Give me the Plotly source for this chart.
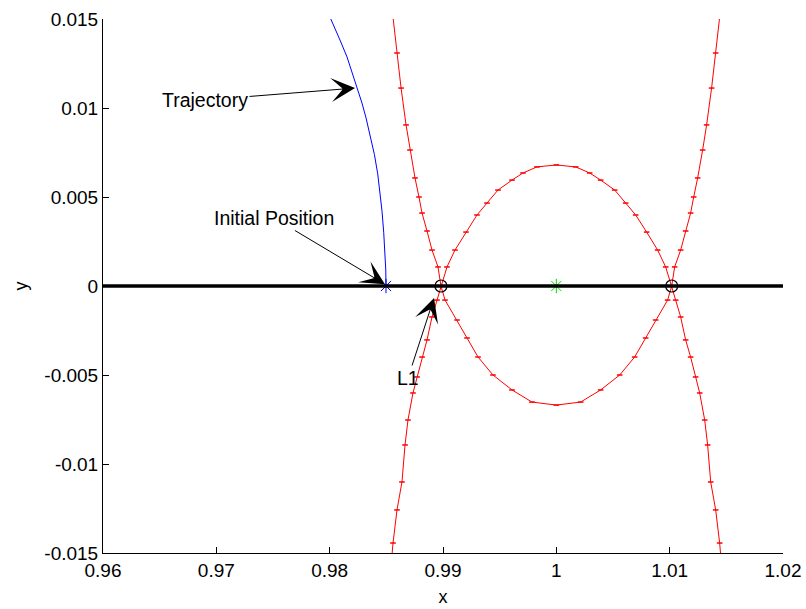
import plotly.graph_objects as go

# ---------------- data ----------------
# Trajectory (blue), from top of the frame down to the initial position
traj_x = [0.98003, 0.98047, 0.98091, 0.98153, 0.98197, 0.98241, 0.98285, 0.98321,
          0.98356, 0.98395, 0.98424, 0.98444, 0.98462, 0.98477, 0.98488, 0.98495, 0.98497]
traj_y = [0.0151, 0.01449, 0.01382, 0.01287, 0.01202, 0.01118, 0.01028, 0.00944,
          0.00850, 0.00738, 0.00630, 0.00530, 0.00420, 0.00300, 0.00190, 0.00090, 0.0]

# Zero-velocity curve A: bottom-left -> L1 -> oval top -> L2 -> bottom-right
zvcA_x = [0.98550, 0.98559, 0.98594, 0.98638, 0.98665, 0.98691, 0.98735, 0.98771,
          0.98815, 0.98859, 0.98903, 0.98947, 0.98982,
          0.99035, 0.99106, 0.99203, 0.99300, 0.99388, 0.99485, 0.99609, 0.99706,
          0.99829, 1.00000, 1.00171, 1.00294, 1.00391, 1.00515, 1.00612, 1.00700,
          1.00797, 1.00894, 1.00965, 1.01018,
          1.01053, 1.01097, 1.01141, 1.01185, 1.01229, 1.01265, 1.01309, 1.01335,
          1.01362, 1.01406, 1.01441, 1.01450]
zvcA_y = [-0.0151, -0.01444, -0.01258, -0.01101, -0.00893, -0.00753, -0.00601, -0.00511,
          -0.00399, -0.00303, -0.00174, -0.00079, 0.0,
          0.00107, 0.00202, 0.00303, 0.00399, 0.00466, 0.00539, 0.00595, 0.00635,
          0.00669, 0.00680, 0.00669, 0.00635, 0.00595, 0.00539, 0.00466, 0.00399,
          0.00303, 0.00202, 0.00107, 0.0,
          -0.00079, -0.00174, -0.00303, -0.00399, -0.00511, -0.00601, -0.00753, -0.00893,
          -0.01101, -0.01258, -0.01444, -0.0151]

# Zero-velocity curve B: top-left -> L1 -> oval bottom -> L2 -> top-right
zvcB_x = [0.98559, 0.98594, 0.98630, 0.98674, 0.98709, 0.98753, 0.98788, 0.98815,
          0.98859, 0.98903, 0.98956, 0.98982,
          0.99018, 0.99124, 0.99212, 0.99309, 0.99441, 0.99609, 0.99785, 1.00000,
          1.00215, 1.00391, 1.00559, 1.00691, 1.00788, 1.00876, 1.00982, 1.01018,
          1.01044, 1.01097, 1.01141, 1.01185, 1.01212, 1.01247, 1.01291, 1.01326,
          1.01370, 1.01406, 1.01441]
zvcB_y = [0.0151, 0.01309, 0.01112, 0.00905, 0.00764, 0.00607, 0.00500, 0.00410,
          0.00309, 0.00202, 0.00107, 0.0,
          -0.00079, -0.00191, -0.00292, -0.00399, -0.00500, -0.00584, -0.00652, -0.00669,
          -0.00652, -0.00584, -0.00500, -0.00399, -0.00292, -0.00191, -0.00079, 0.0,
          0.00107, 0.00202, 0.00309, 0.00410, 0.00500, 0.00607, 0.00764, 0.00905,
          0.01112, 0.01309, 0.0151]

baseline_x = [0.96, 1.02]
baseline_y = [0.0, 0.0]

lagrange_x = [0.98982, 1.01018]   # L1, L2
lagrange_y = [0.0, 0.0]
initial_x = [0.98497]
initial_y = [0.0]
primary_x = [1.0]
primary_y = [0.0]

x_ticks = [0.96, 0.97, 0.98, 0.99, 1.00, 1.01, 1.02]
x_ticktext = ["0.96", "0.97", "0.98", "0.99", "1", "1.01", "1.02"]
y_ticks = [-0.015, -0.01, -0.005, 0.0, 0.005, 0.01, 0.015]
y_ticktext = ["-0.015", "-0.01", "-0.005", "0", "0.005", "0.01", "0.015"]

# ---------------- figure ----------------
FONT = "Liberation Sans, Arial, sans-serif"
fig = go.Figure()

for xs, ys in [(zvcA_x, zvcA_y), (zvcB_x, zvcB_y)]:
    fig.add_trace(go.Scatter(
        x=xs, y=ys, mode="lines+markers",
        line=dict(color="#ff0000", width=1),
        marker=dict(symbol="line-ew", size=4, color="#ff0000",
                    line=dict(color="#ff0000", width=1.5)),
        showlegend=False, hoverinfo="skip"))

fig.add_trace(go.Scatter(x=traj_x, y=traj_y, mode="lines",
                         line=dict(color="#0000ff", width=1),
                         showlegend=False))

fig.add_trace(go.Scatter(x=initial_x, y=initial_y, mode="markers",
                         marker=dict(symbol="asterisk-open", size=12, color="#0000ff",
                                     line=dict(color="#0000ff", width=1)),
                         showlegend=False))
fig.add_trace(go.Scatter(x=primary_x, y=primary_y, mode="markers",
                         marker=dict(symbol="asterisk-open", size=12, color="#00dd00",
                                     line=dict(color="#00dd00", width=1)),
                         showlegend=False))

fig.add_trace(go.Scatter(x=baseline_x, y=baseline_y, mode="lines",
                         line=dict(color="black", width=3.5),
                         showlegend=False))

fig.add_trace(go.Scatter(x=lagrange_x, y=lagrange_y, mode="markers",
                         marker=dict(symbol="circle-open", size=12, color="black",
                                     line=dict(color="black", width=1.2)),
                         showlegend=False))

ann_common = dict(xref="x", yref="y", axref="x", ayref="y", showarrow=True,
                  arrowhead=3, arrowsize=4.0, arrowwidth=1, arrowcolor="black",
                  font=dict(family=FONT, size=19.5, color="black"))
fig.add_annotation(text="Trajectory", x=0.98224, y=0.01112,
                   ax=0.96900, ay=0.01045, **ann_common)
fig.add_annotation(text="Initial Position", x=0.98488, y=0.0001,
                   ax=0.97509, ay=0.00382, **ann_common)
fig.add_annotation(text="L1", x=0.98921, y=-0.00067,
                   ax=0.98691, ay=-0.00517, **ann_common)

axis_common = dict(showgrid=False, zeroline=False, showline=True,
                   linecolor="black", linewidth=1, mirror=False, automargin=False,
                   ticks="inside", ticklen=6, tickcolor="black", tickwidth=1,
                   tickfont=dict(family=FONT, size=19, color="black"))
fig.update_xaxes(range=[0.96, 1.02], tickvals=x_ticks, ticktext=x_ticktext,
                 title=dict(text="x", font=dict(family=FONT, size=18, color="black"),
                            standoff=10),
                 **axis_common)
fig.update_yaxes(range=[-0.015, 0.015], tickvals=y_ticks, ticktext=y_ticktext,
                 title=dict(text="y", font=dict(family=FONT, size=18, color="black"),
                            standoff=12),
                 **axis_common)

fig.update_layout(width=806, height=609,
                  margin=dict(l=103, r=23, t=19, b=56),
                  plot_bgcolor="white", paper_bgcolor="white",
                  showlegend=False)

fig.write_html("out.html")
